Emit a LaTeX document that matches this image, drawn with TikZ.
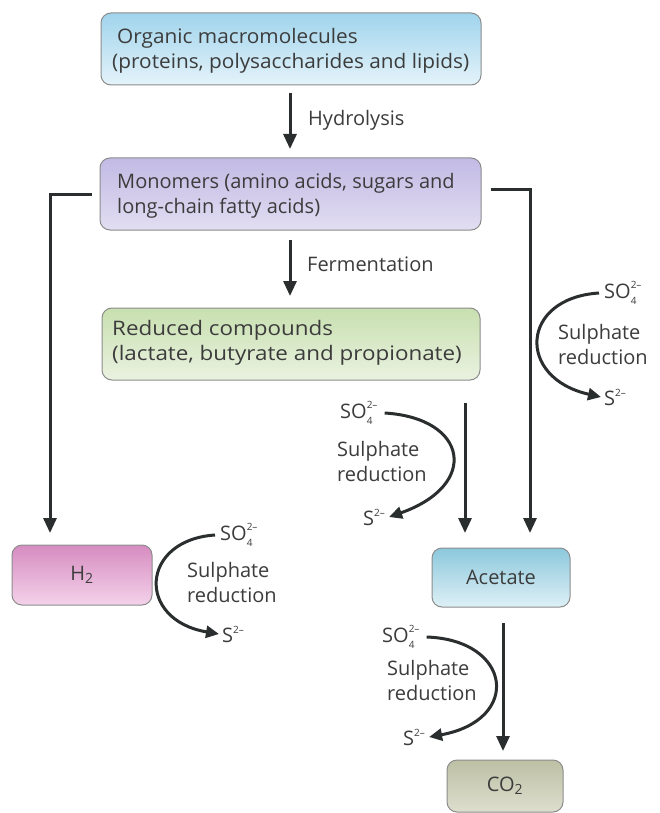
\documentclass[tikz,border=0pt]{standalone}
\usepackage{fontspec}
\setmainfont{Open Sans}
\usetikzlibrary{arrows.meta}
\definecolor{txt}{HTML}{3C3C3C}
\definecolor{arrc}{HTML}{2A2E2E}
\definecolor{boxline}{HTML}{8C8C8C}
\newcommand{\smallscr}[1]{{\fontsize{10}{10}\selectfont #1}}
\newcommand{\sofour}{SO\rlap{\raisebox{10pt}{\smallscr{2–}}}\raisebox{-6pt}{\smallscr{4}}}
\newcommand{\stwo}{S\raisebox{9pt}{\smallscr{2–}}}
\begin{document}
\begin{tikzpicture}[x=1pt,y=-1pt,
  box/.style={draw=boxline, line width=1pt, rounded corners=10pt, inner sep=0pt},
  boxtext/.style={text=txt, font=\fontsize{20}{25}\selectfont, inner sep=0pt, align=left},
  flow/.style={draw=arrc, line width=3pt, -{Triangle[length=15pt,width=13pt]}},
  sflow/.style={draw=arrc, line width=3pt, -{Triangle[length=13pt,width=12pt]}},
  lbl/.style={text=txt, font=\fontsize{20}{25}\selectfont, inner sep=0pt},
]
\useasboundingbox[fill=white] (0,0) rectangle (659,813);

% boxes
\node[box, top color={rgb,255:red,160;green,212;blue,236}, bottom color={rgb,255:red,228;green,243;blue,250},
  minimum width=380pt, minimum height=72pt] (org) at (291,49) {};
\node[boxtext, anchor=west, font=\fontsize{20}{24.5}\selectfont\addfontfeature{FakeStretch=1.04}]
  (orgt) at (112,51) {\hspace*{5pt}Organic macromolecules\\(proteins, polysaccharides and lipids)};
\node[box, top color={rgb,255:red,194;green,186;blue,228}, bottom color={rgb,255:red,226;green,222;blue,242},
  minimum width=381pt, minimum height=72pt] (mono) at (290.5,194) {};
\node[boxtext, anchor=west] (monot) at (117,196) {Monomers (amino acids, sugars and\\long-chain fatty acids)};
\node[box, top color={rgb,255:red,200;green,224;blue,176}, bottom color={rgb,255:red,234;green,242;blue,224},
  minimum width=378pt, minimum height=72pt] (red) at (291,344) {};
\node[boxtext, anchor=west, font=\fontsize{20}{25}\selectfont\addfontfeature{FakeStretch=1.12}]
  (redt) at (112,343) {Reduced compounds\\(lactate, butyrate and propionate)};
\node[box, top color={rgb,255:red,214;green,140;blue,192}, bottom color={rgb,255:red,244;green,210;blue,234},
  minimum width=140pt, minimum height=60pt, text=txt, font=\fontsize{20}{25}\selectfont] (h2) at (82,575) {H\textsubscript{2}};
\node[box, top color={rgb,255:red,140;green,200;blue,220}, bottom color={rgb,255:red,222;green,240;blue,246},
  minimum width=138pt, minimum height=59pt, text=txt, font=\fontsize{20}{25}\selectfont] (acet) at (501,577.5) {Acetate};
\node[box, top color={rgb,255:red,188;green,192;blue,164}, bottom color={rgb,255:red,222;green,222;blue,206},
  minimum width=116pt, minimum height=52pt, text=txt, font=\fontsize{20}{25}\selectfont] (co2) at (505,786) {CO\textsubscript{2}};

% step labels
\node[lbl, anchor=west] (hyd) at (308,120) {Hydrolysis};
\node[lbl, anchor=west] (fer) at (307,264) {Fermentation};

% main arrows
\coordinate (hydtop) at (290,93);
\coordinate (hydtip) at (290,149);
\draw[flow] (hydtop) -- (hydtip);
\coordinate (fertop) at (290,240);
\coordinate (fertip) at (290,296);
\draw[flow] (fertop) -- (fertip);
\coordinate (h2tip) at (50,533);
\draw[flow] ([xshift=-8pt]mono.west) -| (h2tip);
\coordinate (actip1) at (530,533);
\draw[flow] ([xshift=9pt,yshift=5pt]mono.east) -| (actip1);
\coordinate (redout) at (465,403);
\coordinate (actip2) at (465,533);
\draw[flow] (redout) -- (actip2);
\coordinate (acout) at (503,623);
\coordinate (co2tip) at (503,751);
\draw[flow] (acout) -- (co2tip);

% sulphate reduction, right
\node[lbl, anchor=west] (so4r) at (604,293) {\sofour};
\node[lbl, anchor=west, align=left] (sulr) at (558,344) {Sulphate\\reduction};
\node[lbl, anchor=west] (s2r) at (604,397) {\stwo};
\draw[sflow] ([xshift=-5pt]so4r.west) .. controls (520,298) and (516,378) .. ([xshift=-3pt]s2r.west);

% sulphate reduction, middle
\node[lbl, anchor=west] (so4m) at (340,413) {\sofour};
\node[lbl, anchor=west, align=left] (sulm) at (337,461) {Sulphate\\reduction};
\node[lbl, anchor=west] (s2m) at (363,517) {\stwo};
\draw[sflow] ([xshift=12pt]so4m.east) .. controls (468,418) and (480,485) .. ([xshift=4pt]s2m.east);

% sulphate reduction, H2
\node[lbl, anchor=west] (so4h) at (220,535) {\sofour};
\node[lbl, anchor=west, align=left] (sulh) at (187,582) {Sulphate\\reduction};
\node[lbl, anchor=west] (s2h) at (222,634) {\stwo};
\draw[sflow] ([xshift=-5pt]so4h.west) .. controls (140,540) and (136,620) .. ([xshift=-3pt]s2h.west);

% sulphate reduction, bottom
\node[lbl, anchor=west] (so4b) at (382,637) {\sofour};
\node[lbl, anchor=west, align=left] (sulb) at (387,680) {Sulphate\\reduction};
\node[lbl, anchor=west] (s2b) at (403,737) {\stwo};
\draw[sflow] ([xshift=12pt]so4b.east) .. controls (512,640) and (522,720) .. ([xshift=4pt]s2b.east);
\end{tikzpicture}
\end{document}
